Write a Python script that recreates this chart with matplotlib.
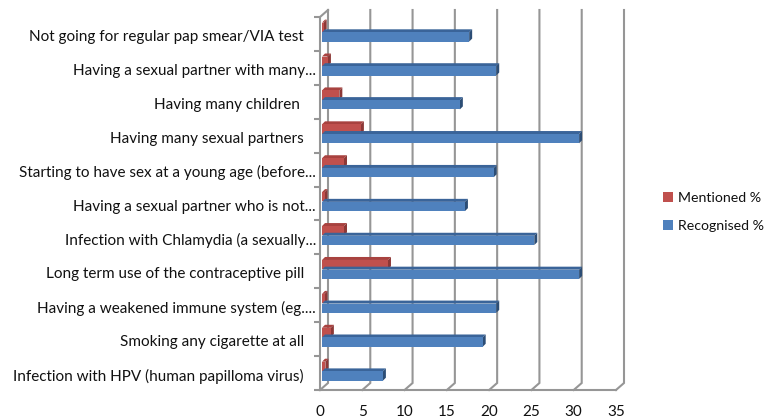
import numpy as np
import matplotlib
matplotlib.use("Agg")
import matplotlib.pyplot as plt
from matplotlib.patches import Polygon, Patch

plt.rcParams['font.family'] = ['Lato', 'DejaVu Sans']

# top to bottom as in the picture
labels = ["Not going for regular pap smear/VIA test",
          "Having a sexual partner with many...",
          "Having many children ",
          "Having many sexual partners",
          "Starting to have sex at a young age (before...",
          "Having a sexual partner who is not...",
          "Infection with Chlamydia (a sexually...",
          "Long term use of the contraceptive pill",
          "Having a weakened immune system (eg....",
          "Smoking any cigarette at all",
          "Infection with HPV (human papilloma virus)"]
recognised = [17.4, 20.6, 16.3, 30.4, 20.3, 16.9, 25.1, 30.4, 20.6, 19.0, 7.2]
mentioned = [0.2, 0.7, 2.05, 4.6, 2.6, 0.3, 2.6, 7.8, 0.3, 1.05, 0.4]
xticks = [0, 5, 10, 15, 20, 25, 30, 35]

W, H = 769, 418
fig = plt.figure(figsize=(W/100, H/100), dpi=100)
ax = fig.add_axes([320/W, 1-390/H, 296/W, 373/H])
n = len(labels)
ax.set_xlim(0, 35)
ax.set_ylim(-0.5, n-0.5)
for s in ax.spines.values():
    s.set_visible(False)

px_x = 35/296
px_y = n/373
wall_c = "#969696"
wall_dx, wall_dy = 8*px_x, 7*px_y
base = 2*px_x
ymin, ymax = -0.5, n-0.5

# walls and gridlines
for t in xticks:
    ax.plot([t, t+wall_dx, t+wall_dx], [ymin, ymin+wall_dy, ymax+wall_dy],
            color=wall_c, lw=1.5, clip_on=False, zorder=1, solid_joinstyle="miter")
ax.plot([0, 35], [ymin, ymin], color=wall_c, lw=1.5, clip_on=False, zorder=1)
ax.plot([0, 0, wall_dx], [ymin, ymax, ymax+wall_dy], color=wall_c, lw=1.5, clip_on=False, zorder=1)


def bars3d(vals, off, col, top_c, side_c, z):
    dx, dy = 3*px_x, 3*px_y
    h = 9.3*px_y
    ys = np.arange(n)[::-1] + off
    for v, y in zip(vals, ys):
        x1 = base + v
        ax.add_patch(Polygon([(base, y+h/2), (x1, y+h/2), (x1+dx, y+h/2+dy), (base+dx, y+h/2+dy)],
                             fc=top_c, ec="none", zorder=z, clip_on=False))
        ax.add_patch(Polygon([(x1, y-h/2), (x1+dx, y-h/2+dy), (x1+dx, y+h/2+dy), (x1, y+h/2)],
                             fc=side_c, ec="none", zorder=z, clip_on=False))
    ax.barh(ys, vals, height=h, left=base, color=col, zorder=z+0.1, clip_on=False)


bars3d(mentioned, 6.7*px_y, "#c0504d", "#a8423f", "#8c3836", 3)
bars3d(recognised, -3.0*px_y, "#4f81bd", "#3a6499", "#2c4d75", 4)

ax.set_xticks(xticks)
ax.tick_params(axis="x", length=0, pad=10.5, labelsize=11, labelcolor="#111111")
ax.set_yticks(list(np.arange(n)-0.5) + [n-0.5])
ax.set_yticklabels([])
ax.tick_params(axis="y", length=4, width=1.5, color=wall_c)
for y, lab in zip(np.arange(n)[::-1], labels):
    # the shortened labels run further right in the reference
    xoff = 316-320 if lab.endswith("...") else 304-320
    ax.annotate(lab, (0, y), xytext=(xoff, -3), textcoords="offset pixels",
                ha="right", va="center", fontsize=11, color="#111111", annotation_clip=False)

handles = [Patch(fc="#c0504d", label="Mentioned %"), Patch(fc="#4f81bd", label="Recognised %")]
fig.legend(handles=handles, loc="center left", bbox_to_anchor=(652/W, 1-212/H), frameon=False,
           fontsize=10.2, handlelength=0.7, handleheight=0.7, handletextpad=0.3,
           labelspacing=1.15, labelcolor="#111111", borderpad=0.3)

fig.savefig("out.png", dpi=100)
